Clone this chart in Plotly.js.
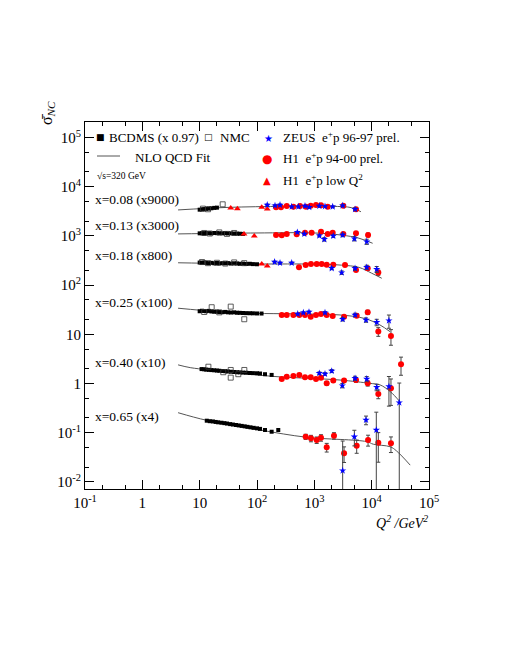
<!DOCTYPE html>
<html><head><meta charset="utf-8">
<script src="https://cdn.plot.ly/plotly-3.0.1.min.js"></script>
<style>html,body{margin:0;padding:0;background:#fff}</style>
</head><body><div id="plot" style="width:505px;height:654px"></div>
<script>
// ---------- DATA ----------
const rowLabels = ["x=0.08 (x9000)","x=0.13 (x3000)","x=0.18 (x800)","x=0.25 (x100)","x=0.40 (x10)","x=0.65 (x4)"];
const xTickVals = [0.1,1,10,100,1000,10000,100000];
const xTickText = ["10<sup>-1</sup>","1","10","10<sup>2</sup>","10<sup>3</sup>","10<sup>4</sup>","10<sup>5</sup>"];
const yTickVals = [0.01,0.1,1,10,100,1000,10000,100000];
const yTickText = ["10<sup>-2</sup>","10<sup>-1</sup>","1","10","10<sup>2</sup>","10<sup>3</sup>","10<sup>4</sup>","10<sup>5</sup>"];

// NLO QCD fit curves
const fitQ2_008 = [4.2,30,300,2000,4500,6500];
const fitS_008  = [3380,3800,4000,4000,3750,3100];
const fitQ2_013 = [4.2,100,1000,3000,6000,10400];
const fitS_013  = [1100,1150,1150,1040,900,710];
const fitQ2_018 = [4.2,100,1000,3000,6000,10000,15000];
const fitS_018  = [285,270,268,255,230,175,138];
const fitQ2_025 = [4.2,10,34,560,2800,7600,14000,21000];
const fitS_025  = [34,31,27.5,26,24.8,21,15.5,11.3];
const fitQ2_040 = [4.2,7,30,190,2800,9300,14000,21000,31000];
const fitS_040  = [2.4,2.1,1.75,1.4,1.18,1.01,0.94,0.69,0.43];
const fitQ2_065 = [4.2,13,113,740,8200,10700,21000,27000,47000];
const fitS_065  = [0.256,0.18,0.114,0.081,0.066,0.0585,0.052,0.043,0.022];

// BCDMS (x 0.97)
const bcdQ2_008 = [10,11,12,13,14.5,16,18,20];
const bcdS_008  = [3420,3480,3500,3560,3600,3650,3720,3760];
const bcdQ2_013 = [10,11,12,13,14.5,16,18,20,22,25,28,31,35,40,45,50,57];
const bcdS_013  = [1130,1140,1120,1150,1140,1130,1150,1140,1135,1130,1140,1125,1130,1120,1115,1110,1100];
const bcdQ2_018 = [10,11,12,13,14.5,16,18,20,22,25,28,31,35,40,45,50,57,65,75,85,100];
const bcdS_018  = [288,285,290,283,280,284,278,282,276,280,278,281,275,278,276,272,274,270,272,268,266];
const bcdQ2_025 = [10,11,12,13,14.5,16,18,20,22,25,28,31,35,40,45,50,57,65,75,85,100,120];
const bcdS_025  = [29.5,30.2,29.8,29.5,30.0,29.2,28.8,29.0,28.5,28.2,28.6,28.0,27.8,28.0,27.5,27.4,27.2,27.0,26.9,26.8,26.6,26.5];
const bcdQ2_040 = [10.8,12,13,14.5,16,18,20,22,25,28,31,35,40,45,50,57,65,75,85,100,113,138,180];
const bcdS_040  = [1.97,1.95,1.92,1.90,1.88,1.86,1.84,1.82,1.80,1.78,1.76,1.74,1.72,1.70,1.69,1.67,1.66,1.64,1.63,1.62,1.60,1.55,1.50];
const bcdQ2_065 = [13.3,15,17,19,21,24,27,30,34,38,43,48,54,61,68,77,87,100,113,138,180,235];
const bcdS_065  = [0.176,0.172,0.170,0.166,0.163,0.160,0.157,0.154,0.150,0.147,0.144,0.141,0.138,0.135,0.132,0.129,0.126,0.123,0.120,0.114,0.105,0.114];

// NMC
const nmcQ2_008 = [11.4,14,25.2];
const nmcS_008  = [3590,3490,4400];
const nmcQ2_013 = [12,15,22,30,40];
const nmcS_013  = [1150,1120,1180,1100,1150];
const nmcQ2_018 = [11,14,20,28,40,60];
const nmcS_018  = [295,280,285,275,290,280];
const nmcQ2_025 = [12,16.2,22,34.8,60];
const nmcS_025  = [28.5,35.6,28,36.6,20.3];
const nmcQ2_040 = [14.2,25.8,34.8,34.8,47.2,60.1];
const nmcS_040  = [2.20,1.70,1.89,1.32,1.55,1.89];

// H1 e+p low Q2
const lowQ2_008 = [34.8,45.5,121,151];
const lowS_008  = [3700,3590,3830,3540];
const lowQ2_013 = [59.3,89.7];
const lowS_013  = [1100,1000];
const lowQ2_018 = [121,151];
const lowS_018  = [270,246];

// H1 e+p 94-00 prel. (value, error in %)
const h1Q2_008 = [215,262,330,431,562,716,865,1070,1307,1710,3200,5330];
const h1S_008  = [3830,3830,4070,3940,4070,3940,4130,4270,4200,3940,4130,3490];
const h1E_008  = [3,3,3,3,3,3,3,3,3,4,5,6];
const h1Q2_013 = [215,270,330,492,687,898,1307,1710,2090,3200,5330,8650];
const h1S_013  = [1048,1033,1099,1082,1167,1167,1222,1099,1167,1099,1135,1048];
const h1E_013  = [3,3,3,3,3,3,4,4,4,5,7,9];
const h1Q2_018 = [540,706,874,1099,1343,1644,2140,3430,5330,8530,13060];
const h1S_018  = [231,258,270,270,270,261,261,258,204,220,180];
const h1E_018  = [3,3,3,3,3,4,4,5,7,9,12];
const h1Q2_025 = [270,330,431,547,687,865,1070,1307,1644,2090,3300,5480,8530,13060,21700];
const h1S_025  = [24.8,24.8,24.8,24.8,24.8,22.9,24.8,26.0,24.8,23.7,22.9,24.0,28.1,11.4,9.25];
const h1E_025  = [3,3,3,3,3,4,4,4,5,5,6,8,10,20,35];
const h1Q2_040 = [270,330,431,547,687,865,1070,1307,1644,2140,3300,5330,8530,13060,21700,32500];
const h1S_040  = [1.24,1.38,1.43,1.50,1.34,1.34,1.24,1.32,1.01,1.15,1.15,1.18,1.01,0.615,0.80,2.46];
const h1E_040  = [5,5,5,5,5,6,6,6,8,8,8,10,12,20,55,40];
const h1Q2_065 = [706,874,1099,1307,1644,2200,3300,5480,8650,13060,21700];
const h1S_065  = [0.0833,0.0771,0.0714,0.0794,0.0507,0.0873,0.0383,0.0547,0.0714,0.063,0.061];
const h1E_065  = [12,15,15,15,20,15,35,30,25,60,35];

// ZEUS e+p 96-97 prel.
const zQ2_008 = [151,206,252,403,526,687,818,1222,1535,2090,3120,5130];
const zS_008  = [4270,4130,4270,3940,3940,4070,3830,4070,3990,3940,4130,3490];
const zE_008  = [4,4,4,3,3,3,3,3,3,4,5,7];
const zQ2_013 = [505,668,1222,1493,2140,3120,4990,8200];
const zS_013  = [1189,1099,1014,855,1000,1048,881,766];
const zE_013  = [4,4,5,8,6,8,10,12];
const zQ2_018 = [203,252,403,2010,3000,5130,8200,12240];
const zS_018  = [296,283,283,220,180,220,231,210];
const zE_018  = [4,4,4,6,8,9,10,14];
const zQ2_025 = [513,643,807,1535,3120,5130,7970,12240,20000];
const zS_025  = [26.0,27.6,28.5,27.6,20.3,24.8,19.6,17.6,19];
const zE_025  = [4,4,4,5,8,8,10,15,30];
const zQ2_040 = [1222,1535,2010,3080,5130,8200,12240,20000,30300];
const zS_040  = [1.62,1.57,1.80,0.91,1.28,1.24,0.84,0.87,0.41];
const zE_040  = [6,6,7,10,10,12,15,60,150];
const zQ2_065 = [3120,4990,7970,12050];
const zS_065  = [0.017,0.0833,0.182,0.114];
const zE_065  = [300,35,20,130];

// ---------- BUILD ----------
const SERIF = "'Liberation Serif', 'Times New Roman', serif";
const traces = [];
const fits = [[fitQ2_008,fitS_008],[fitQ2_013,fitS_013],[fitQ2_018,fitS_018],[fitQ2_025,fitS_025],[fitQ2_040,fitS_040],[fitQ2_065,fitS_065]];
fits.forEach(f => traces.push({x:f[0], y:f[1], mode:'lines', line:{color:'#555', width:1, shape:'spline', smoothing:1}, hoverinfo:'skip'}));

const bcd = [[bcdQ2_008,bcdS_008],[bcdQ2_013,bcdS_013],[bcdQ2_018,bcdS_018],[bcdQ2_025,bcdS_025],[bcdQ2_040,bcdS_040],[bcdQ2_065,bcdS_065]];
bcd.forEach(d => traces.push({x:d[0], y:d[1], mode:'markers', marker:{symbol:'square', size:4, color:'#000'}}));

const nmc = [[nmcQ2_008,nmcS_008],[nmcQ2_013,nmcS_013],[nmcQ2_018,nmcS_018],[nmcQ2_025,nmcS_025],[nmcQ2_040,nmcS_040]];
nmc.forEach(d => traces.push({x:d[0], y:d[1], mode:'markers', marker:{symbol:'square-open', size:5, color:'#333', line:{width:0.8}}}));

const low = [[lowQ2_008,lowS_008],[lowQ2_013,lowS_013],[lowQ2_018,lowS_018]];
low.forEach(d => traces.push({x:d[0], y:d[1], mode:'markers', marker:{symbol:'triangle-up', size:6, color:'#ff0000'}}));

function withErr(q, s, e, marker) {
  return {x:q, y:s, mode:'markers', marker:marker,
    error_y:{type:'data', array:s.map((v,i)=>v*e[i]/100), color:'#444', thickness:1, width:2}};
}
const h1 = [[h1Q2_008,h1S_008,h1E_008],[h1Q2_013,h1S_013,h1E_013],[h1Q2_018,h1S_018,h1E_018],[h1Q2_025,h1S_025,h1E_025],[h1Q2_040,h1S_040,h1E_040],[h1Q2_065,h1S_065,h1E_065]];
h1.forEach(d => traces.push(withErr(d[0],d[1],d[2],{symbol:'circle', size:6, color:'#ff0000'})));
const zeus = [[zQ2_008,zS_008,zE_008],[zQ2_013,zS_013,zE_013],[zQ2_018,zS_018,zE_018],[zQ2_025,zS_025,zE_025],[zQ2_040,zS_040,zE_040],[zQ2_065,zS_065,zE_065]];
zeus.forEach(d => traces.push(withErr(d[0],d[1],d[2],{symbol:'star', size:5.5, color:'#0000ff'})));

// layout helpers: pixel -> paper
const L=85, R=429, T=122, B=489;
const PX = p => (p-L)/(R-L);
const PY = p => (B-p)/(B-T);
function ann(px, py, text, opt) {
  return Object.assign({xref:'paper', yref:'paper', x:PX(px), y:PY(py), text:text, showarrow:false,
    xanchor:'left', yanchor:'middle', font:{family:SERIF, size:13, color:'#000'}}, opt||{});
}
const rowY = [199,225,255,302,362,416];
const annotations = rowLabels.map((t,i)=>ann(93,rowY[i],t,{font:{family:SERIF,size:13.5,color:'#000'}}));
annotations.push(
  ann(100,137,'■',{xanchor:'center',font:{family:'DejaVu Sans',size:9,color:'#000'}}),
  ann(107,137,'BCDMS (x 0.97)'),
  ann(208,137,'□',{xanchor:'center',font:{family:'DejaVu Sans',size:9,color:'#000'}}),
  ann(218,137,'NMC'),
  ann(133,157,'NLO QCD Fit'),
  ann(95,176,'√s=320 GeV',{font:{family:SERIF,size:9.5,color:'#000'}}),
  ann(268,138,'★',{xanchor:'center',font:{family:'DejaVu Sans',size:10,color:'#0000ff'}}),
  ann(281,137,'ZEUS\u00a0\u00a0e<sup>+</sup>p 96-97 prel.'),
  ann(267,159,'●',{xanchor:'center',font:{family:'DejaVu Sans',size:12,color:'#ff0000'}}),
  ann(281,158,'H1\u00a0\u00a0e<sup>+</sup>p 94-00 prel.'),
  ann(267,180,'▲',{xanchor:'center',font:{family:'DejaVu Sans',size:10,color:'#ff0000'}}),
  ann(281,180,'H1\u00a0\u00a0e<sup>+</sup>p low Q<sup>2</sup>'),
  ann(430,522,'<i>Q<sup>2</sup> /GeV<sup>2</sup></i>',{xanchor:'right',font:{family:SERIF,size:14,color:'#000'}}),
  ann(48,113,'σ\u0304<sub><i>NC</i></sub>',{xanchor:'center',textangle:-90,font:{family:SERIF,size:16,color:'#000'}})
);
const shapes = [{type:'line', xref:'paper', yref:'paper', x0:PX(97), x1:PX(120), y0:PY(156), y1:PY(156), line:{color:'#555', width:1}}];

const axisCommon = {type:'log', ticks:'inside', ticklen:9, tickcolor:'#000', showline:true, linecolor:'#000', linewidth:1,
  mirror:'allticks', showgrid:false, zeroline:false, tickfont:{family:SERIF, size:15, color:'#000'},
  minor:{ticks:'inside', ticklen:4, tickcolor:'#000', showgrid:false}};
const layout = {
  width:505, height:654, showlegend:false, paper_bgcolor:'#fff', plot_bgcolor:'#fff',
  font:{family:SERIF, color:'#000'},
  margin:{l:L, r:505-R, t:T, b:654-B},
  xaxis:Object.assign({}, axisCommon, {range:[-1,5], tickvals:xTickVals, ticktext:xTickText}),
  yaxis:Object.assign({}, axisCommon, {range:[Math.log10(0.0072), Math.log10(207000)], tickvals:yTickVals, ticktext:yTickText}),
  annotations:annotations, shapes:shapes
};
Plotly.newPlot('plot', traces, layout, {staticPlot:true});
</script></body></html>
